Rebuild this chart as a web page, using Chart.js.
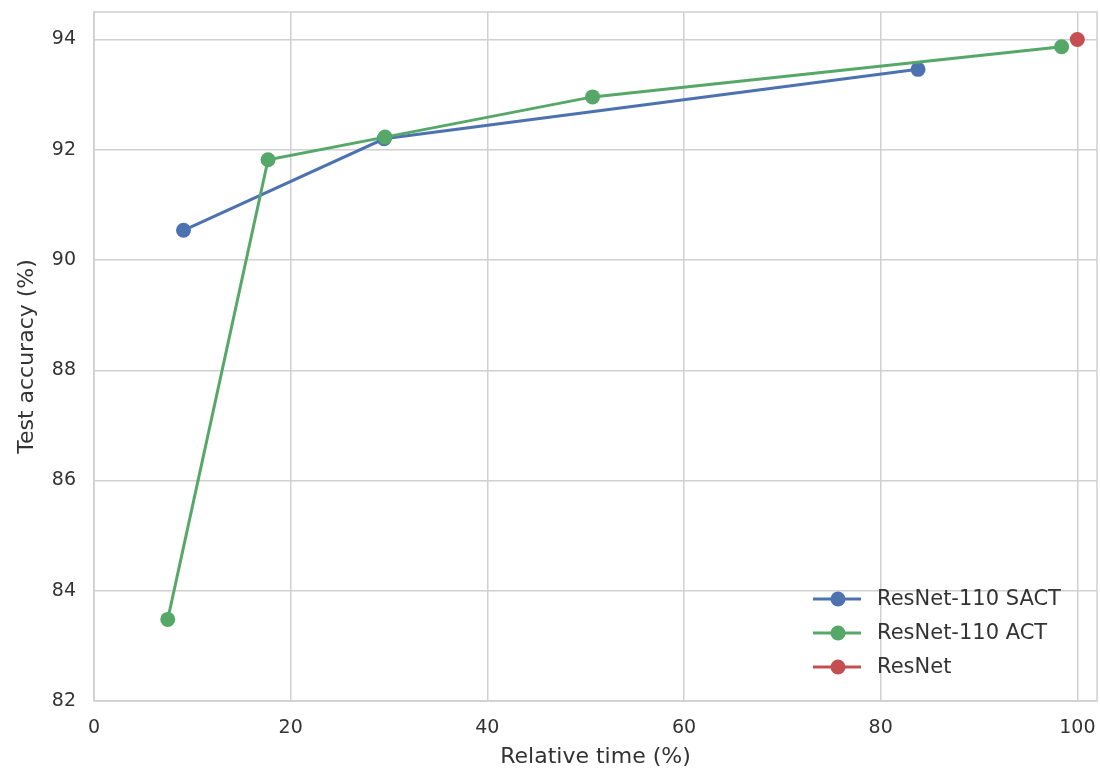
<!DOCTYPE html>
<html>
<head>
<meta charset="utf-8">
<script src="https://cdn.jsdelivr.net/npm/chart.js@4/dist/chart.umd.min.js"></script>
<style>
  body { margin: 0; background: #fff; }
  canvas { display: block; }
</style>
</head>
<body>
<canvas id="myChart" width="1100" height="773"></canvas>
<script>
// values
const sactTime = [9.1, 29.5, 83.8]
const sactAcc = [90.54, 92.2, 93.46]
const actTime = [7.5, 17.7, 29.6, 50.7, 98.4]
const actAcc = [83.48, 91.82, 92.23, 92.96, 93.87]
const resnetTime = [100]
const resnetAcc = [94.0]
const xTicks = [0, 20, 40, 60, 80, 100]
const yTicks = [82, 84, 86, 88, 90, 92, 94]

const gridColor = '#d0d0d0'
const textColor = '#333333'
const font = 'DejaVu Sans'

function pts(xs, ys) {
    return xs.map((x, i) => ({ x: x, y: ys[i] }))
}

function series(label, xs, ys, color, order) {
    return {
        label: label,
        data: pts(xs, ys),
        borderColor: color,
        backgroundColor: color,
        pointBackgroundColor: color,
        pointBorderColor: color,
        pointRadius: 7.5,
        pointBorderWidth: 0,
        borderWidth: 3,
        showLine: true,
        clip: false,
        order: order
    }
}

// frame round the plot, as in seaborn whitegrid
const frame = {
    id: 'frame',
    beforeDatasetsDraw(chart) {
        const { ctx, chartArea: a } = chart
        ctx.save()
        ctx.strokeStyle = gridColor
        ctx.lineWidth = 1.5
        ctx.strokeRect(a.left, a.top, a.right - a.left, a.bottom - a.top)
        ctx.restore()
    }
}

// legend drawn inside the plot, lower right
const innerLegend = {
    id: 'innerLegend',
    afterDraw(chart) {
        const { ctx, chartArea: a } = chart
        const sets = chart.data.datasets
        ctx.save()
        ctx.font = '21px "' + font + '"'
        ctx.textBaseline = 'middle'
        sets.forEach((ds, i) => {
            const y = a.bottom - 102 + i * 34
            const x0 = a.right - 284
            ctx.strokeStyle = ds.borderColor
            ctx.lineWidth = 3
            ctx.beginPath()
            ctx.moveTo(x0, y)
            ctx.lineTo(x0 + 48, y)
            ctx.stroke()
            ctx.fillStyle = ds.borderColor
            ctx.beginPath()
            ctx.arc(x0 + 25, y, 7.5, 0, Math.PI * 2)
            ctx.fill()
            ctx.fillStyle = textColor
            ctx.fillText(ds.label, x0 + 64, y + 1)
        })
        ctx.restore()
    }
}

const ctx = document.getElementById('myChart').getContext('2d')
const myChart = new Chart(ctx, {
    type: 'scatter',
    data: {
        datasets: [
            series('ResNet-110 SACT', sactTime, sactAcc, '#4C72B0', 3),
            series('ResNet-110 ACT', actTime, actAcc, '#55A868', 2),
            series('ResNet', resnetTime, resnetAcc, '#C44E52', 1)
        ]
    },
    options: {
        responsive: false,
        animation: false,
        layout: { autoPadding: false, padding: { top: 12, right: 3, left: 0, bottom: 0 } },
        plugins: {
            legend: { display: false },
            tooltip: { enabled: false }
        },
        scales: {
            x: {
                type: 'linear',
                min: 0,
                max: 102,
                afterFit: s => {
                    s.height = 72
                    s.paddingLeft = 0
                    s.paddingRight = 0
                },
                afterBuildTicks: s => { s.ticks = xTicks.map(v => ({ value: v })) },
                grid: { color: gridColor, lineWidth: 1.5, drawTicks: false },
                border: { display: false },
                ticks: { color: textColor, padding: 16, font: { family: font, size: 19 } },
                title: {
                    display: true,
                    text: 'Relative time (%)',
                    color: textColor,
                    padding: { top: 0, bottom: 3 },
                    font: { family: font, size: 22 }
                }
            },
            y: {
                min: 82,
                max: 94.5,
                afterFit: s => {
                    s.width = 94
                    s.paddingTop = 0
                    s.paddingBottom = 0
                },
                afterBuildTicks: s => { s.ticks = yTicks.map(v => ({ value: v })) },
                grid: { color: gridColor, lineWidth: 1.5, drawTicks: false },
                border: { display: false },
                ticks: { color: textColor, padding: 18, font: { family: font, size: 19 } },
                title: {
                    display: true,
                    text: 'Test accuracy (%)',
                    color: textColor,
                    padding: { top: 14, bottom: 0 },
                    font: { family: font, size: 22 }
                }
            }
        }
    },
    plugins: [frame, innerLegend]
})
</script>
</body>
</html>
